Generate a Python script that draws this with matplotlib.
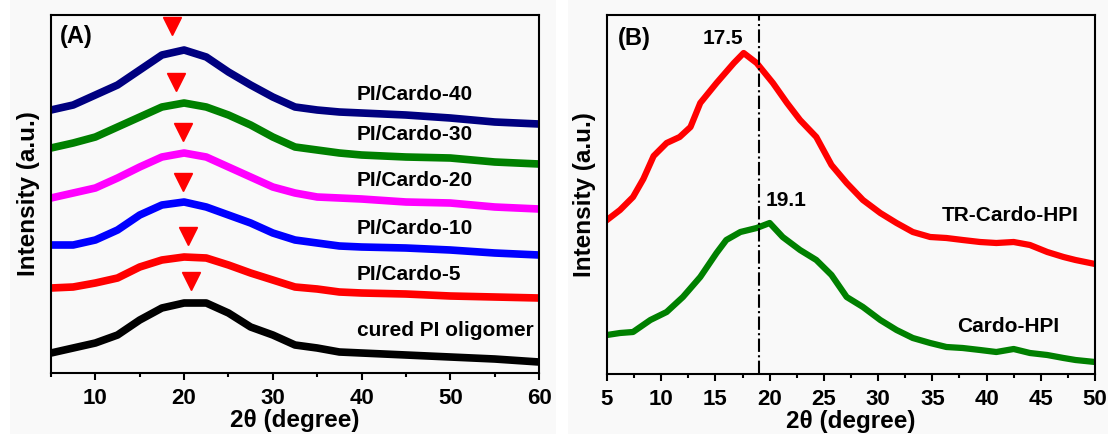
import matplotlib
matplotlib.use("Agg")
import matplotlib.pyplot as plt
from matplotlib.patches import Rectangle
from matplotlib.ticker import MultipleLocator

plt.rcParams['font.family'] = ['Liberation Sans', 'DejaVu Sans']
plt.rcParams['font.weight'] = 'bold'

# ---------------- panel A data ----------------
two_theta_a = [5, 7.5, 10, 12.5, 15, 17.5, 20, 22.5, 25, 27.5, 30, 32.5,
               35, 37.5, 40, 45, 50, 55, 60]
cardo_40 = [263, 268, 278, 288, 303, 318, 323, 316, 301, 288, 276, 266,
            263, 261, 260, 258, 255, 251, 249]
cardo_30 = [225, 230, 236, 246, 256, 266, 270, 266, 258, 248, 236, 226,
            223, 220, 218, 216, 215, 211, 209]
cardo_20 = [175, 180, 185, 195, 206, 216, 220, 216, 206, 196, 186, 180,
            176, 175, 174, 171, 170, 166, 164]
cardo_10 = [128, 128, 133, 143, 158, 168, 171, 166, 158, 150, 140, 133,
            130, 127, 126, 125, 123, 120, 118]
cardo_5 = [85, 86, 90, 95, 106, 113, 116, 115, 108, 100, 93, 86,
           84, 81, 80, 79, 77, 76, 75]
cured_pi = [20, 25, 30, 38, 53, 65, 70, 70, 60, 46, 38, 28,
            25, 21, 20, 18, 16, 14, 11]

series_a = [cardo_40, cardo_30, cardo_20, cardo_10, cardo_5, cured_pi]
labels_a = ['PI/Cardo-40', 'PI/Cardo-30', 'PI/Cardo-20', 'PI/Cardo-10',
            'PI/Cardo-5', 'cured PI oligomer']
colors_a = ['#000080', '#008000', '#ff00ff', '#0000ff', '#ff0000', '#000000']
label_y_a = [278, 238, 193, 145, 98, 43]
peak_x_a = [18.6, 19.1, 19.9, 19.9, 20.4, 20.8]
peak_y_a = [347, 291, 241, 191, 137, 92]

# ---------------- panel B data ----------------
two_theta_tr = [5.0, 6.2, 7.4, 8.35, 9.3, 10.5, 11.7, 12.7, 13.6, 15.1, 16.7,
                17.6, 18.8, 20.3, 21.6, 22.8, 24.3, 25.7, 27.1, 28.6, 30.2,
                31.7, 33.2, 34.8, 36.3, 37.8, 39.4, 40.9, 42.5, 44.0, 45.6,
                47.1, 48.2, 50.0]
tr_cardo_hpi = [154, 164, 177, 195, 218, 231, 237, 247, 271, 291, 311,
                321, 311, 291, 271, 254, 237, 209, 191, 174, 161,
                151, 142, 137, 136, 134, 132, 131, 132, 129, 122,
                117, 114, 110]
two_theta_hpi = [5.0, 6.2, 7.4, 9.0, 10.5, 12.0, 13.6, 15.1, 16.0, 17.3, 18.8,
                 20.0, 21.2, 22.8, 24.3, 25.7, 27.1, 28.6, 30.2, 31.7, 33.2,
                 34.8, 36.3, 37.8, 39.4, 40.9, 42.5, 44.0, 45.6, 47.1, 48.2,
                 50.0]
cardo_hpi = [39, 41, 42, 54, 62, 77, 97, 121, 134, 142, 146,
             151, 137, 124, 114, 99, 77, 67, 54, 44, 36,
             31, 27, 26, 24, 22, 25, 21, 19, 16, 14, 12]
peak_tr = 17.5
peak_hpi = 19.1
ref_line_x = 19.0

fig = plt.figure(figsize=(11.08, 4.34), dpi=100)
fig.patch.set_facecolor('white')
bg = '#f9f9f9'
fig.patches.append(Rectangle((10 / 1108, 0), 546 / 1108, 1, transform=fig.transFigure,
                             facecolor=bg, edgecolor='none', zorder=-10))
fig.patches.append(Rectangle((568 / 1108, 0), 540 / 1108, 1, transform=fig.transFigure,
                             facecolor=bg, edgecolor='none', zorder=-10))

ax_a = fig.add_axes([51 / 1108, 1 - 373 / 434, 488 / 1108, 358 / 434])
ax_b = fig.add_axes([607 / 1108, 1 - 374 / 434, 488 / 1108, 359 / 434])

for ax in (ax_a, ax_b):
    ax.set_facecolor(bg)
    for s in ax.spines.values():
        s.set_linewidth(1.5)
    ax.set_yticks([])
    ax.tick_params(axis='x', which='major', direction='out', length=5, width=1.5,
                   labelsize=16, pad=6)
    ax.tick_params(axis='x', which='minor', direction='out', length=3, width=1.5)
    ax.set_xlabel('2\u03b8 (degree)', fontsize=17.5, fontweight='bold', labelpad=0)
    ax.set_ylabel('Intensity (a.u.)', fontsize=17.5, fontweight='bold', labelpad=8)

# panel A
for y, c in zip(series_a, colors_a):
    ax_a.plot(two_theta_a, y, color=c, lw=5.5, solid_joinstyle='round',
              solid_capstyle='butt')
for lab, ly in zip(labels_a, label_y_a):
    ax_a.text(39.5, ly, lab, fontsize=15, fontweight='bold', va='center', ha='left')
ax_a.plot(peak_x_a, peak_y_a, linestyle='none', marker='v', markersize=13,
          color='#ff0000')
ax_a.text(6.0, 336, '(A)', fontsize=17, fontweight='bold', va='center', ha='left')
ax_a.set_xlim(5, 60)
ax_a.set_ylim(0, 358)
ax_a.xaxis.set_major_locator(MultipleLocator(10))
ax_a.xaxis.set_minor_locator(MultipleLocator(5))

# panel B
ax_b.plot(two_theta_tr, tr_cardo_hpi, color='#ff0000', lw=4.5, solid_joinstyle='round')
ax_b.plot(two_theta_hpi, cardo_hpi, color='#008000', lw=4.5, solid_joinstyle='round')
ax_b.axvline(ref_line_x, color='black', lw=1.5, linestyle='-.')
ax_b.text(peak_tr + 0.1, 336, f'{peak_tr}', fontsize=15, fontweight='bold',
          ha='right', va='center')
ax_b.text(peak_hpi + 0.5, 174, f'{peak_hpi}', fontsize=15, fontweight='bold',
          ha='left', va='center')
ax_b.text(35.9, 159, 'TR-Cardo-HPI', fontsize=15, fontweight='bold', ha='left', va='center')
ax_b.text(37.3, 47, 'Cardo-HPI', fontsize=15, fontweight='bold', ha='left', va='center')
ax_b.text(6.0, 336, '(B)', fontsize=17, fontweight='bold', va='center', ha='left')
ax_b.set_xlim(5, 50)
ax_b.set_ylim(0, 359)
ax_b.xaxis.set_major_locator(MultipleLocator(5))
ax_b.xaxis.set_minor_locator(MultipleLocator(2.5))

fig.savefig('out.png', dpi=100, facecolor=fig.get_facecolor())
